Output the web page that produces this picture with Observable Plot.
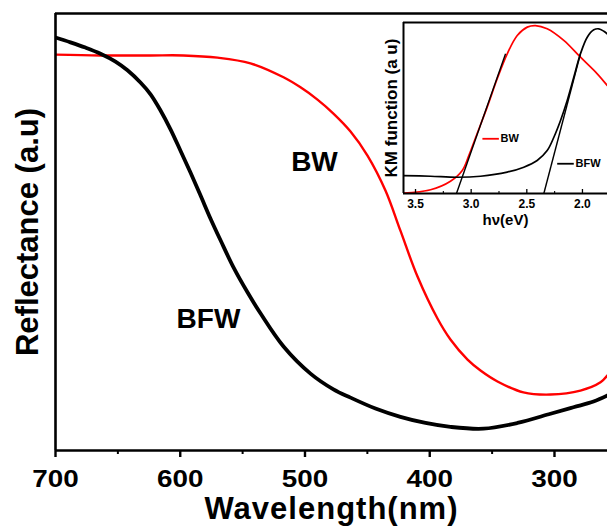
<!DOCTYPE html>
<html><head><meta charset="utf-8">
<script src="https://cdn.jsdelivr.net/npm/d3@7"></script>
<script src="https://cdn.jsdelivr.net/npm/@observablehq/plot@0.6"></script>
<style>
body{margin:0;background:#fff;}
#wrap{position:relative;width:607px;height:529px;overflow:hidden;}
#inset{position:absolute;left:370px;top:0;}
svg{overflow:hidden;}
</style></head><body><div id="wrap"><div id="main"></div><div id="inset"></div></div>
<script>
// ---- main chart data (wavelength nm, reflectance a.u.) ----
const wavelengthBFW = [700, 688.0, 676.0, 663.9, 651.9, 642.3, 631.9, 623.8, 615.8, 607.8, 599.8, 591.8, 583.8, 575.8, 567.7, 557.3, 546.1, 535.7, 517.2, 495.6, 477.2, 463.5, 443.5, 423.5, 403.4, 383.4, 356.9, 329.7, 303.2, 284.8, 268.7, 257.5];
const reflBFW = [94.5, 93.4, 92.2, 90.8, 89.0, 87.0, 84.2, 81.5, 77.8, 73.5, 68.6, 63.6, 58.4, 53.1, 48.1, 41.9, 36.2, 31.4, 23.8, 17.6, 14.0, 12.1, 9.6, 7.7, 6.3, 5.4, 5.0, 6.3, 8.4, 9.9, 11.2, 12.6];
const wavelengthBW = [700, 663.9, 623.8, 597.4, 570.1, 543.7, 517.2, 503.6, 490.0, 477.2, 463.5, 449.9, 435.5, 423.5, 409.8, 393.8, 383.4, 369.7, 359.3, 345.7, 324.9, 303.2, 279.2, 263.1, 257.5];
const reflBW = [90.6, 90.4, 90.4, 90.4, 89.9, 88.6, 85.4, 83.1, 80.3, 77.1, 73.0, 67.5, 59.5, 50.3, 39.8, 30.2, 25.4, 20.8, 18.3, 15.8, 13.3, 12.8, 13.7, 15.6, 17.2];
const majorTicks = [700, 600, 500, 400, 300];
const minorTicks = [650, 550, 450, 350];
const seriesNames = ["BW", "BFW"];
const seriesLabelW = [492.4, 577.4];
const seriesLabelR = [66.1, 30.0];
const xTitle = "Wavelength(nm)";
const yTitle = "Reflectance (a.u)";

// ---- inset data (photon energy eV, KM function a.u.) ----
const evBW = [3.611, 3.365, 3.186, 3.080, 3.021, 2.946, 2.856, 2.766, 2.676, 2.586, 2.496, 2.422, 2.317, 2.168, 2.018, 1.867, 1.778];
const kmBW = [0.2, 2.2, 7.2, 13.5, 22.2, 35.1, 50.5, 67.1, 81.7, 92.4, 97.3, 98.2, 96.3, 89.5, 79.7, 70.0, 63.2];
const evBFW = [3.611, 3.365, 3.125, 2.916, 2.676, 2.527, 2.407, 2.317, 2.257, 2.197, 2.137, 2.078, 2.018, 1.957, 1.898, 1.853, 1.808, 1.778];
const kmBFW = [10.5, 10.1, 9.5, 10.1, 12.5, 15.4, 19.3, 25.1, 32.9, 42.7, 54.4, 68.0, 81.7, 91.4, 95.7, 96.3, 94.9, 93.4];
const tangentBW_ev = [3.132, 2.691];
const tangentBW_km = [0, 81.7];
const tangentBFW_ev = [2.347, 2.018];
const tangentBFW_km = [0, 81.7];
const insetMajor = [3.5, 3.0, 2.5, 2.0];
const insetMinor = [3.25, 2.75, 2.25];
const legendNames = ["BW", "BFW"];
const legendColors = ["#ff0000", "#000000"];
const legendEv1 = [2.899, 2.227];
const legendEv2 = [2.751, 2.078];
const legendTextEv = [2.736, 2.062];
const legendKm = [32.0, 17.4];
const insetXTitle = "hν(eV)";
const insetYTitle = "KM function (a u)";

const FONT = "Liberation Sans, Arial, Helvetica, sans-serif";
const bfw = wavelengthBFW.map((w, i) => ({w, r: reflBFW[i]}));
const bw = wavelengthBW.map((w, i) => ({w, r: reflBW[i]}));
const seriesLabels = seriesNames.map((t, i) => ({t, w: seriesLabelW[i], r: seriesLabelR[i]}));

const main = Plot.plot({
  width: 607, height: 529,
  marginTop: 13, marginLeft: 55, marginRight: 0, marginBottom: 79,
  style: {fontFamily: FONT, background: "transparent", color: "#000"},
  x: {domain: [700, 257.5]},
  y: {domain: [0, 100]},
  marks: [
    Plot.line(bw, {x: "w", y: "r", stroke: "#ff0000", strokeWidth: 2.4, curve: "catmull-rom", clip: true}),
    Plot.line(bfw, {x: "w", y: "r", stroke: "#000", strokeWidth: 3.8, curve: "catmull-rom", clip: true}),
    Plot.ruleX([700], {stroke: "#000", strokeWidth: 2.6}),
    Plot.ruleY([0, 100], {stroke: "#000", strokeWidth: 2.6}),
    Plot.axisX({ticks: majorTicks, tickSize: 7, tickPadding: 12, tickFormat: d => String(d), fontSize: 24, fontWeight: "bold", label: null, strokeWidth: 2.4}),
    Plot.axisX({ticks: minorTicks, tickSize: 4, tickFormat: () => "", label: null, strokeWidth: 2}),
    Plot.axisY({ticks: [], label: null}),
    Plot.text([yTitle], {frameAnchor: "left", textAnchor: "middle", lineAnchor: "middle", rotate: -90, dx: -27, fontSize: 31, fontWeight: "bold"}),
    Plot.text([xTitle], {frameAnchor: "bottom", textAnchor: "middle", lineAnchor: "middle", dy: 59, fontSize: 31, fontWeight: "bold"}),
    Plot.text(seriesLabels, {x: "w", y: "r", text: "t", fontSize: 28, fontWeight: "bold"})
  ]
});
document.getElementById("main").appendChild(main);
// widen tick digits a little, like the reference's wide bold numerals
d3.select(main).selectAll('g[aria-label="x-axis tick label"] text').each(function() {
  const t = this.getAttribute("transform") || "";
  this.setAttribute("transform", t + " scale(1.16,1)");
});
d3.select(main).selectAll('g[aria-label="text"] text').filter(function(){return this.textContent === xTitle;}).attr("letter-spacing", "1px");

const iBW = evBW.map((e, i) => ({e, k: kmBW[i]}));
const iBFW = evBFW.map((e, i) => ({e, k: kmBFW[i]}));
const tangents = [
  {x1: tangentBW_ev[0], x2: tangentBW_ev[1], y1: tangentBW_km[0], y2: tangentBW_km[1]},
  {x1: tangentBFW_ev[0], x2: tangentBFW_ev[1], y1: tangentBFW_km[0], y2: tangentBFW_km[1]}
];
const legend = legendNames.map((t, i) => ({t, c: legendColors[i], x1: legendEv1[i], x2: legendEv2[i], xt: legendTextEv[i], k: legendKm[i]}));

const inset = Plot.plot({
  width: 237, height: 235,
  marginTop: 22, marginLeft: 33, marginRight: 0, marginBottom: 42,
  style: {fontFamily: FONT, background: "transparent", color: "#000"},
  x: {domain: [3.608, 1.775]},
  y: {domain: [0, 100]},
  marks: [
    Plot.line(iBW, {x: "e", y: "k", stroke: "#ff0000", strokeWidth: 1.7, curve: "catmull-rom", clip: true}),
    Plot.line(iBFW, {x: "e", y: "k", stroke: "#000", strokeWidth: 1.7, curve: "catmull-rom", clip: true}),
    Plot.link(tangents, {x1: "x1", x2: "x2", y1: "y1", y2: "y2", stroke: "#000", strokeWidth: 1.4}),
    Plot.ruleX([3.608], {stroke: "#000", strokeWidth: 2}),
    Plot.ruleY([0, 100], {stroke: "#000", strokeWidth: 2}),
    Plot.ruleX(insetMajor, {stroke: "#000", strokeWidth: 1.3, insetTop: 167}),
    Plot.ruleX(insetMinor, {stroke: "#000", strokeWidth: 1.1, insetTop: 169}),
    Plot.axisX({ticks: insetMajor, tickSize: 0, tickPadding: 6, tickFormat: d3.format(".1f"), fontSize: 12, fontWeight: "bold", label: null}),
    Plot.axisY({ticks: [], label: null}),
    Plot.link(legend, {x1: "x1", x2: "x2", y1: "k", y2: "k", stroke: "c", strokeWidth: 1.8}),
    Plot.text(legend, {x: "xt", y: "k", text: "t", textAnchor: "start", fontSize: 11, fontWeight: "bold"}),
    Plot.text([insetXTitle], {frameAnchor: "bottom", textAnchor: "middle", lineAnchor: "middle", dy: 27, fontSize: 15, fontWeight: "bold"}),
    Plot.text([insetYTitle], {frameAnchor: "left", textAnchor: "middle", lineAnchor: "middle", rotate: -90, dx: -12, fontSize: 17, fontWeight: "bold"})
  ]
});
document.getElementById("inset").appendChild(inset);
</script></body></html>
